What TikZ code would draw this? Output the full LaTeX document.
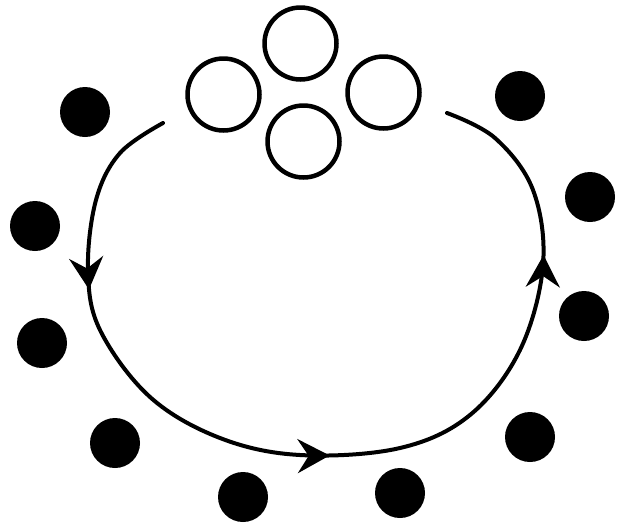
\documentclass[tikz,border=0pt]{standalone}
\usetikzlibrary{arrows.meta,decorations.markings}
\begin{document}
\begin{tikzpicture}[x=1pt,y=-1pt,
  open/.style={circle,draw,line width=4.5pt,minimum size=72pt,inner sep=0pt},
  dot/.style={circle,fill,minimum size=50pt,inner sep=0pt},
  tipA/.style={Stealth[length=32pt,width=34pt,inset=11pt]},
  flow/.style={line width=4pt,line cap=round,
    decoration={markings,
      mark=at position 0.19 with {\arrow{Stealth[length=32pt,width=34pt,inset=11pt]}},
      mark=at position 0.50 with {\arrow{Stealth[length=32pt,width=34pt,inset=11pt]}},
      mark=at position 0.82 with {\arrow{Stealth[length=32pt,width=34pt,inset=11pt]}}},
    postaction={decorate}}]
\useasboundingbox (0,0) rectangle (617,528);
% open circles
\node[open] (ct) at (300.5,43.5) {};
\node[open] (cl) at (223.5,94.5) {};
\node[open] (cr) at (383.5,92.5) {};
\node[open] (cb) at (303.5,141.5) {};
% filled dots
\node[dot] (d1) at (85,112) {};
\node[dot] (d2) at (35,226) {};
\node[dot] (d3) at (42,343) {};
\node[dot] (d4) at (115,443) {};
\node[dot] (d5) at (243,497) {};
\node[dot] (d6) at (400,493) {};
\node[dot] (d7) at (530,437) {};
\node[dot] (d8) at (584,316) {};
\node[dot] (d9) at (590,197) {};
\node[dot] (d10) at (520,96) {};
% cycle path
\coordinate (s) at (163,123);
\coordinate (e) at (447,113);
\draw[flow] plot[smooth,tension=0.6] coordinates {(s) (120,153) (96,200) (88,270) (100,330) (150,397) (220,438) (300,455) (400,448) (470,415) (520,350) (543,265) (533,190) (495,138) (e)};
\end{tikzpicture}
\end{document}
